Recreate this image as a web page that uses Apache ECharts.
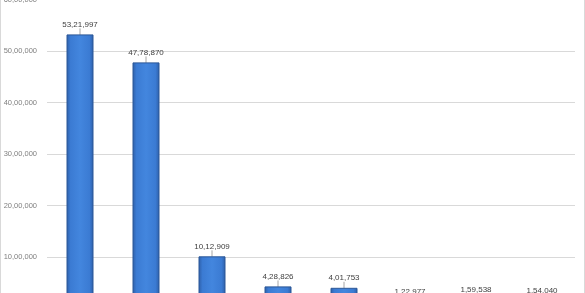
<!DOCTYPE html>
<html>
<head>
<meta charset="utf-8">
<script src="https://cdn.jsdelivr.net/npm/echarts@6/dist/echarts.min.js"></script>
<style>
html,body{margin:0;padding:0;background:#fff;overflow:hidden;width:585px;height:293px;}
#wrap{position:absolute;left:0;top:0;width:585px;height:293px;overflow:hidden;box-sizing:border-box;border-left:1px solid #d9d9d9;border-right:1px solid #d9d9d9;}
#chart{position:absolute;left:-1px;top:-20px;width:585px;height:340px;}
</style>
</head>
<body>
<div id="wrap"><div id="chart"></div></div>
<script>
var categories = ["Category 1","Category 2","Category 3","Category 4","Category 5","Category 6","Category 7","Category 8"];
var values = [5321997, 4778870, 1012909, 428826, 401753, 122977, 159538, 154040];
var yTicks = [0, 1000000, 2000000, 3000000, 4000000, 5000000, 6000000];

function indian(n){
  var s = String(Math.round(n));
  if (s.length <= 3) return s;
  var last = s.slice(-3), rest = s.slice(0, -3);
  var parts = [];
  while (rest.length > 2){ parts.unshift(rest.slice(-2)); rest = rest.slice(0, -2); }
  if (rest.length) parts.unshift(rest);
  return parts.join(',') + ',' + last;
}

var font = "'Liberation Sans',Arial,sans-serif";
var chart = echarts.init(document.getElementById('chart'), null, {renderer:'canvas'});
chart.setOption({
  animation:false,
  grid:{left:47, right:10, top:19.5, bottom:11.5, containLabel:false, outerBoundsMode:'none'},
  xAxis:{type:'category', data:categories,
    axisLine:{show:true, lineStyle:{color:'#d9d9d9'}},
    axisTick:{show:false},
    axisLabel:{show:true, color:'#595959', fontSize:8, fontFamily:font}},
  yAxis:{type:'value', min:yTicks[0], max:yTicks[yTicks.length-1], interval:yTicks[1]-yTicks[0],
    axisLine:{show:false}, axisTick:{show:false},
    splitLine:{lineStyle:{color:'#d9d9d9', width:1}},
    axisLabel:{color:'#7f7f7f', fontSize:7.5, fontFamily:font, margin:10,
      formatter:function(v){return indian(v);}}},
  series:[{
    type:'bar', data:values, barWidth:27,
    itemStyle:{
      color:new echarts.graphic.LinearGradient(0,0,1,0,[
        {offset:0,color:'#2e5fa8'},{offset:0.15,color:'#3b7bd3'},
        {offset:0.5,color:'#4386de'},{offset:0.85,color:'#3b7bd3'},{offset:1,color:'#2e5fa8'}]),
      borderColor:'#2b5797', borderWidth:1},
    label:{show:true, position:'top', distance:2, color:'#404040', fontSize:8, fontFamily:font,
      formatter:function(p){return indian(p.value);}},
    labelLayout:{dy:-4},
    labelLine:{show:true, lineStyle:{color:'#a6a6a6', width:1}}
  }]
});
</script>
</body>
</html>
